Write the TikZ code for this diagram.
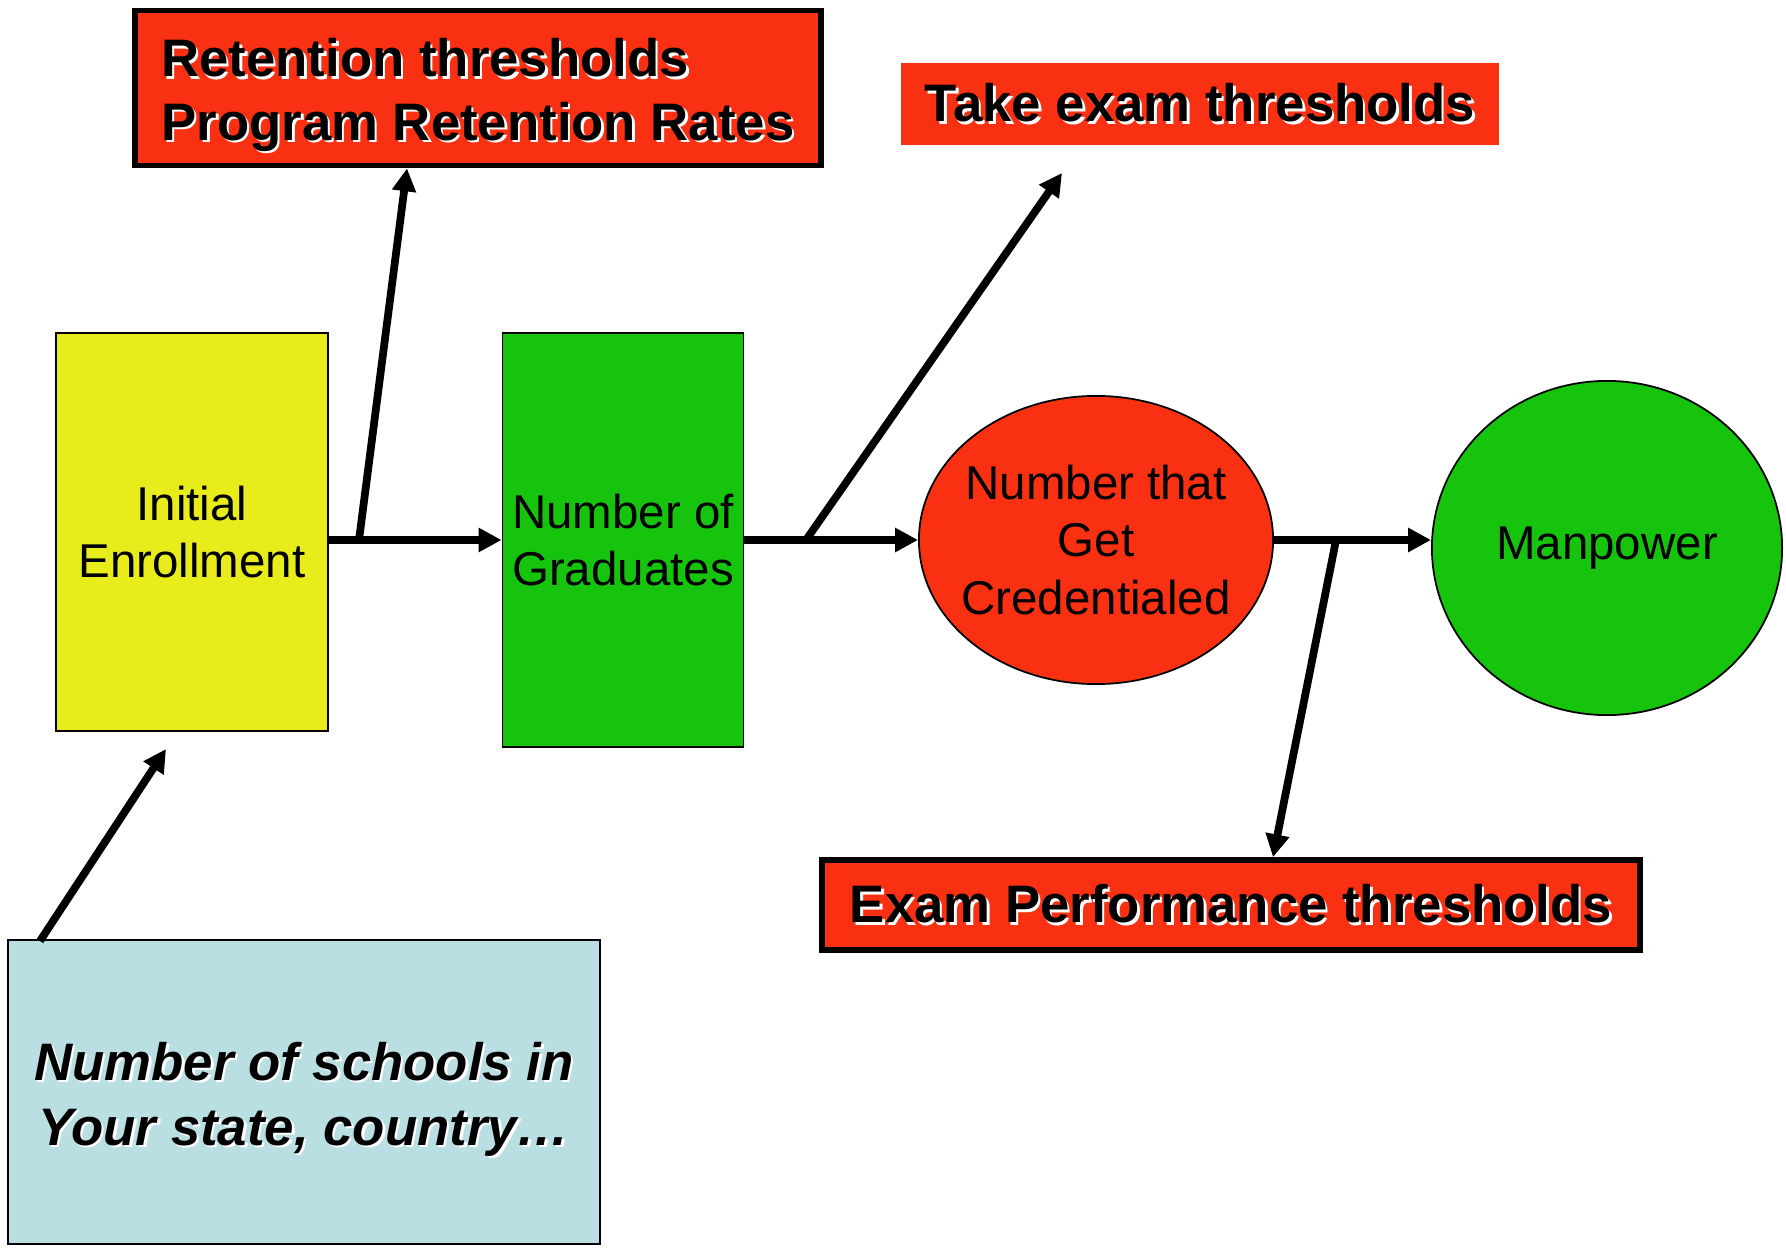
\documentclass[tikz,border=0pt]{standalone}
\usepackage{fontspec}
\setmainfont{Liberation Sans}
\usepackage{xcolor}
\usetikzlibrary{arrows.meta,shapes.geometric}

\definecolor{boxred}{RGB}{250,48,18}
\definecolor{boxyellow}{RGB}{232,236,26}
\definecolor{boxgreen}{RGB}{22,196,14}
\definecolor{boxblue}{RGB}{186,223,226}

% bold text with a white drop shadow
\newcommand{\shd}[1]{\makebox[0pt][l]{\kern0.7pt\raisebox{-0.7pt}{\color{white}#1}}#1}

\tikzset{
  stage/.style={draw,line width=0.5pt,font=\fontsize{13.5}{16.3}\selectfont,align=center,inner sep=0pt},
  limit/.style={fill=boxred,font=\fontsize{15}{18}\bfseries\selectfont,inner sep=0pt},
  flow/.style={line width=2.2pt,-{Triangle[length=6.5pt,width=6.5pt]}},
}

\begin{document}
\begin{tikzpicture}[x=0.01cm,y=-0.01cm]
		\useasboundingbox (0,0) rectangle (1786,1249);
		\node[stage,fill=boxyellow,minimum width=2.72cm,minimum height=3.98cm] (enroll) at (192,532) {Initial\\Enrollment};
		\node[stage,fill=boxgreen,minimum width=2.41cm,minimum height=4.14cm] (grad) at (623,540) {Number of\\Graduates};
		\node[stage,ellipse,fill=boxred,inner xsep=-3pt,minimum width=3.54cm,minimum height=2.88cm] (cred) at (1096,540) {Number that\\Get\\Credentialed};
		\node[stage,ellipse,fill=boxgreen,minimum width=3.50cm,minimum height=3.34cm] (man) at (1607,548) {Manpower};
		%
		\node[limit,draw,line width=1.6pt,align=left,minimum width=6.86cm,minimum height=1.55cm] (retain) at (478,88) {\rule{0pt}{15.5pt}\shd{Retention thresholds}\\\shd{Program Retention Rates}};
		\node[limit,minimum width=5.98cm,minimum height=0.82cm] (take) at (1200,104) {\shd{Take exam thresholds}};
		\node[limit,draw,line width=1.6pt,minimum width=8.18cm,minimum height=0.90cm] (perf) at (1231,905) {\shd{Exam Performance thresholds}};
		\node[draw,fill=boxblue,line width=0.6pt,align=center,inner sep=0pt,minimum width=5.92cm,minimum height=3.03cm,font=\fontsize{15}{18.5}\bfseries\itshape\selectfont] (schools) at (304,1092) {\rule{0pt}{15.5pt}\shd{Number of schools in}\\\shd{Your state, country\ldots}};
		%
		\coordinate (b1) at (359,540);
		\coordinate (b2) at (806,540);
		\coordinate (b3) at (1336,540);
		\coordinate (t2) at (1062,173);
		\coordinate (s0) at (40,941);
		\coordinate (s1) at (166,749);
		%
		\draw[flow] (enroll.east |- grad.west) -- (grad.west);
		\draw[flow] (grad.east) -- (cred.west);
		\draw[flow] (cred.east) -- (man.west |- cred.east);
		\draw[flow] (b1) -- (retain.south -| 407,0);
		\draw[flow] (b2) -- (t2);
		\draw[flow] (b3) -- (perf.north -| 1273,0);
		\draw[flow] (s0) -- (s1);
		\end{tikzpicture}
\end{document}
